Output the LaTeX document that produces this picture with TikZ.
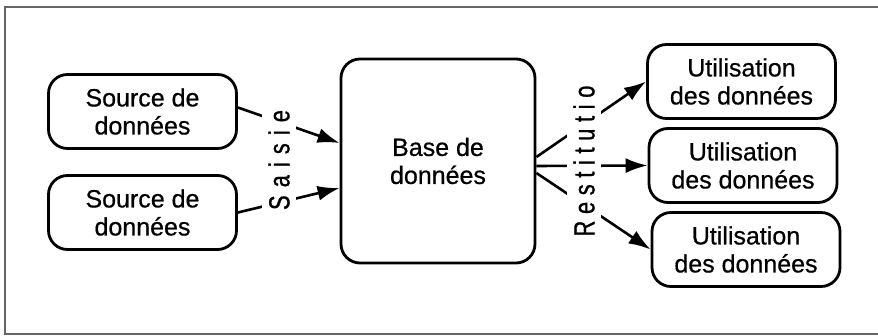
\documentclass[tikz,border=0pt]{standalone}
\usepackage{fontspec}
\setmainfont{Liberation Sans}[FakeBold=0.6]
\newfontfamily\narrowfont{Liberation Sans}[FakeStretch=0.75, FakeBold=0.9]
\usetikzlibrary{arrows.meta}
\tikzset{x=1pt, y=-1pt,
every node/.style={font=\fontsize{25}{28}\selectfont, align=center},
box/.style={ % Rounded boxes
draw, line width=2.8pt, rounded corners=19pt,
minimum width=188pt, minimum height=74pt, inner sep=0pt},
flow/.style={ % Lines between boxes
line width=2.6pt, -{Latex[length=22pt,width=15pt]}},
vlabel/.style={ % Spaced words set upright
rotate=90, fill=white, inner sep=6pt, font=\narrowfont\fontsize{29}{30}\selectfont}}

\begin{document}
\begin{tikzpicture}
	\useasboundingbox (0,0) rectangle (878,336);
	\draw[gray!80!black, line width=1.8pt] (878,7) -- (5,7) -- (5,334) -- (878,334);
	\node[box] (s1) at (142.5,111.5) {Source de\\données};
	\node[box] (s2) at (142.5,212.5) {Source de\\données};
	\node[box, minimum width=194pt, minimum height=204pt] (base) at (438,161) {Base de\\données};
	\node[box] (u1) at (741.5,81.5) {Utilisation\\des données};
	\node[box] (u2) at (743,165.5) {Utilisation\\des données};
	\node[box] (u3) at (746,249.5) {Utilisation\\des données};
	\draw[flow] ([yshift=4pt]s1.east) -- ([yshift=18pt]base.west);
	\draw[flow] (s2.east) -- ([yshift=-27pt]base.west);
	\draw[flow] ([yshift=4pt]base.east) -- (u1.west);
	\draw[flow] ([yshift=-5pt]base.east) -- (u2.west);
	\draw[flow] ([yshift=-12pt]base.east) -- (u3.west);
	\node[vlabel] (saisie) at (279,160) {\addfontfeature{LetterSpace=28}Saisie};
	\node[vlabel] (restit) at (584,161) {\addfontfeature{LetterSpace=23}Restitutio};
\end{tikzpicture}
\end{document}
